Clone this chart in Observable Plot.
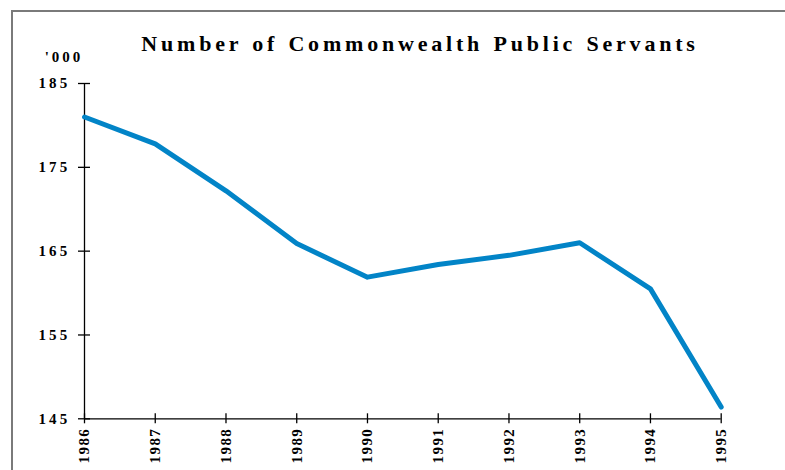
<!DOCTYPE html>
<html>
<head>
<meta charset="utf-8">
<script src="https://cdn.jsdelivr.net/npm/d3@7"></script>
<script src="https://cdn.jsdelivr.net/npm/@observablehq/plot@0.6"></script>
<style>
  html, body { margin: 0; padding: 0; background: #fff; }
  #wrap { position: relative; width: 785px; height: 470px; overflow: hidden; }
  #frame { position: absolute; left: 11px; top: 10px; width: 800px; height: 500px;
           border-left: 2px solid #7a7a7a; border-top: 2px solid #7a7a7a; }
  #title { position: absolute; left: 0; width: 840px; text-align: center; top: 33px;
           font-family: "Liberation Serif", "Times New Roman", serif; font-weight: bold;
           font-size: 22px; line-height: 22px; letter-spacing: 3.8px; word-spacing: 1px; color: #000; white-space: nowrap; }
  #chart { position: absolute; left: 0; top: 0; }
  #chart svg text { font-family: "Liberation Serif", "Times New Roman", serif !important; font-weight: bold !important; fill: #000; }
  #chart svg g[aria-label="y-axis tick label"] text { letter-spacing: 3.2px; }
  #chart svg g[aria-label="x-axis tick label"] text { letter-spacing: 1.4px; }
  #chart svg .unit text { letter-spacing: 3px; }
</style>
</head>
<body>
<div id="wrap">
  <div id="frame"></div>
  <div id="title">Number of Commonwealth Public Servants</div>
  <div id="chart"></div>
</div>
<script>
const titleText = "Number of Commonwealth Public Servants";
const unitLabel = "'000";
const years = [1986, 1987, 1988, 1989, 1990, 1991, 1992, 1993, 1994, 1995];
const servants = [181.0, 177.8, 172.2, 165.9, 161.9, 163.4, 164.5, 166.0, 160.5, 146.4];
const yTicks = [145, 155, 165, 175, 185];

const data = years.map((y, i) => ({year: y, value: servants[i]}));

const chart = Plot.plot({
  width: 785,
  height: 470,
  marginLeft: 84,
  marginRight: 64.3,
  marginTop: 83,
  marginBottom: 51.7,
  style: {fontFamily: "'Liberation Serif', 'Times New Roman', serif", fontWeight: "bold", fontSize: "15px", color: "#000", background: "transparent", overflow: "visible"},
  x: {domain: [1986, 1995]},
  y: {domain: [145, 185]},
  marks: [
    Plot.ruleX([1986], {stroke: "#000", strokeWidth: 1.3}),
    Plot.ruleY([145], {stroke: "#000", strokeWidth: 1.3}),
    Plot.ruleY(yTicks, {y: d => d, x1: 1986, x2: 1986, insetLeft: -6, insetRight: -6, stroke: "#000", strokeWidth: 1.3}),
    Plot.ruleX(years, {x: d => d, y1: 145, y2: 145, insetTop: -5, insetBottom: -5, stroke: "#000", strokeWidth: 1.3}),
    Plot.axisY({ticks: yTicks, tickSize: 0, tickPadding: 14, tickFormat: d => String(d), fontSize: 15, label: null}),
    Plot.axisX({ticks: years, tickSize: 0, tickPadding: 9, tickRotate: -90, tickFormat: d => String(d), fontSize: 15, label: null}),
    Plot.text([unitLabel], {frameAnchor: "top-left", text: d => d, dx: -20.5, dy: -21.5, lineAnchor: "bottom", textAnchor: "middle", fontSize: 15, className: "unit"}),
    Plot.line(data, {x: "year", y: "value", stroke: "#0284c7", strokeWidth: 5, strokeLinecap: "round", strokeLinejoin: "round"})
  ]
});
document.getElementById("chart").appendChild(chart);
</script>
</body>
</html>
